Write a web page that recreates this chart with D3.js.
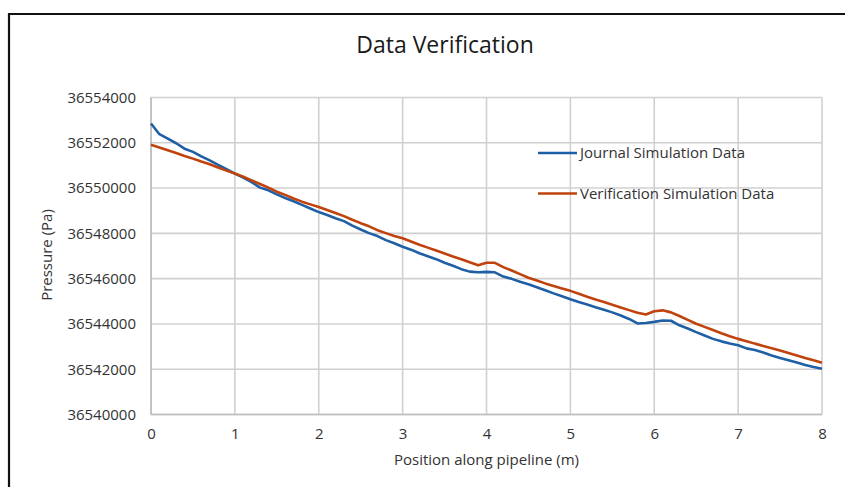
<!DOCTYPE html>
<html><head><meta charset="utf-8">
<script src="https://cdn.jsdelivr.net/npm/d3@7"></script>
<style>html,body{margin:0;padding:0;background:#fff;}svg{display:block;font-family:"Open Sans",sans-serif;}</style>
</head><body>
<svg id="chart" width="845" height="487"></svg>
<script>
const positions = [0,0.1,0.2,0.3,0.4,0.5,0.6,0.7,0.8,0.9,1,1.1,1.2,1.3,1.4,1.5,1.6,1.7,1.8,1.9,2,2.1,2.2,2.3,2.4,2.5,2.6,2.7,2.8,2.9,3,3.1,3.2,3.3,3.4,3.5,3.6,3.7,3.8,3.9,4,4.1,4.2,4.3,4.4,4.5,4.6,4.7,4.8,4.9,5,5.1,5.2,5.3,5.4,5.5,5.6,5.7,5.8,5.9,6,6.1,6.2,6.3,6.4,6.5,6.6,6.7,6.8,6.9,7,7.1,7.2,7.3,7.4,7.5,7.6,7.7,7.8,7.9,8];
const journal = [36552850,36552380,36552180,36551980,36551740,36551600,36551400,36551220,36551020,36550830,36550640,36550460,36550260,36550020,36549900,36549720,36549560,36549420,36549260,36549100,36548940,36548810,36548670,36548540,36548340,36548170,36548010,36547880,36547700,36547560,36547410,36547280,36547120,36546990,36546860,36546700,36546570,36546420,36546310,36546280,36546300,36546280,36546090,36545990,36545860,36545750,36545620,36545490,36545350,36545220,36545090,36544970,36544860,36544740,36544630,36544510,36544370,36544220,36544020,36544040,36544090,36544150,36544140,36543940,36543800,36543640,36543490,36543340,36543230,36543140,36543060,36542920,36542850,36542740,36542610,36542500,36542400,36542300,36542190,36542100,36542020];
const verification = [36551910,36551790,36551670,36551550,36551420,36551300,36551170,36551050,36550910,36550770,36550640,36550500,36550340,36550180,36550020,36549840,36549700,36549540,36549400,36549280,36549160,36549030,36548900,36548760,36548600,36548450,36548310,36548140,36548010,36547880,36547780,36547640,36547500,36547370,36547240,36547110,36546980,36546860,36546720,36546590,36546700,36546700,36546510,36546360,36546200,36546040,36545920,36545790,36545680,36545570,36545460,36545330,36545200,36545080,36544970,36544850,36544730,36544610,36544490,36544420,36544560,36544600,36544510,36544350,36544180,36544010,36543870,36543730,36543590,36543460,36543340,36543240,36543130,36543030,36542930,36542830,36542720,36542610,36542500,36542400,36542290];
const yTicks = [36540000,36542000,36544000,36546000,36548000,36550000,36552000,36554000];
const xTicks = [0,1,2,3,4,5,6,7,8];
const seriesNames = ["Journal Simulation Data","Verification Simulation Data"];
const seriesColors = ["#1f5fa6","#c0420c"];

const svg = d3.select("#chart");
const L = 151, R = 822, T = 97.5, B = 414.5;
const x = d3.scaleLinear().domain([0,8]).range([L,R]);
const y = d3.scaleLinear().domain([36540000,36554000]).range([B,T]);

svg.append("rect").attr("width",845).attr("height",487).attr("fill","#fff");
svg.append("path").attr("d","M9,487 V14 H845").attr("fill","none").attr("stroke","#111").attr("stroke-width",2.2);

const grid = svg.append("g");
grid.selectAll("line.h").data(yTicks).join("line")
  .attr("x1",L).attr("x2",R).attr("y1",d=>y(d)).attr("y2",d=>y(d))
  .attr("stroke","#d0d0d0").attr("stroke-width",1.6);
grid.selectAll("line.v").data(xTicks).join("line")
  .attr("y1",T).attr("y2",B).attr("x1",d=>x(d)).attr("x2",d=>x(d))
  .attr("stroke","#d0d0d0").attr("stroke-width",1.6);
svg.append("line").attr("x1",L).attr("x2",L).attr("y1",T).attr("y2",B).attr("stroke","#bdbdbd").attr("stroke-width",1.6);
svg.append("line").attr("x1",L).attr("x2",R).attr("y1",B).attr("y2",B).attr("stroke","#bdbdbd").attr("stroke-width",1.6);

const yAxis = d3.axisLeft(y).tickValues(yTicks).tickSize(0).tickPadding(15).tickFormat(d3.format("d"));
const gy = svg.append("g").attr("transform",`translate(${L},0)`).call(yAxis);
gy.select(".domain").remove();
gy.selectAll("text").attr("font-size",15).attr("fill","#333").attr("font-family","'Open Sans',sans-serif");
const xAxis = d3.axisBottom(x).tickValues(xTicks).tickSize(0).tickPadding(14).tickFormat(d3.format("d"));
const gx = svg.append("g").attr("transform",`translate(0,${B})`).call(xAxis);
gx.select(".domain").remove();
gx.selectAll("text").attr("font-size",15).attr("fill","#333").attr("font-family","'Open Sans',sans-serif");

const line = d3.line().x(d=>x(d[0])).y(d=>y(d[1]));
[journal, verification].forEach((vals,i)=>{
  svg.append("path").datum(positions.map((p,j)=>[p,vals[j]]))
    .attr("d",line).attr("fill","none").attr("stroke",seriesColors[i])
    .attr("stroke-width",2.6).attr("stroke-linejoin","round");
});

const legY = [153, 193.5];
seriesNames.forEach((n,i)=>{
  svg.append("line").attr("x1",538).attr("x2",577).attr("y1",legY[i]).attr("y2",legY[i])
    .attr("stroke",seriesColors[i]).attr("stroke-width",2.4);
  svg.append("text").attr("x",580).attr("y",legY[i]).attr("dy","0.35em")
    .attr("font-size",15).attr("fill","#333").text(n);
});

svg.append("text").attr("x",445).attr("y",53).attr("text-anchor","middle")
  .attr("font-size",23).attr("fill","#1a1a1a").text("Data Verification");
svg.append("text").attr("x",(L+R)/2).attr("y",465).attr("text-anchor","middle")
  .attr("font-size",15).attr("fill","#333").text("Position along pipeline (m)");
svg.append("text").attr("transform","translate(52,255) rotate(-90)").attr("text-anchor","middle")
  .attr("font-size",15).attr("fill","#333").text("Pressure (Pa)");
</script>
</body></html>
